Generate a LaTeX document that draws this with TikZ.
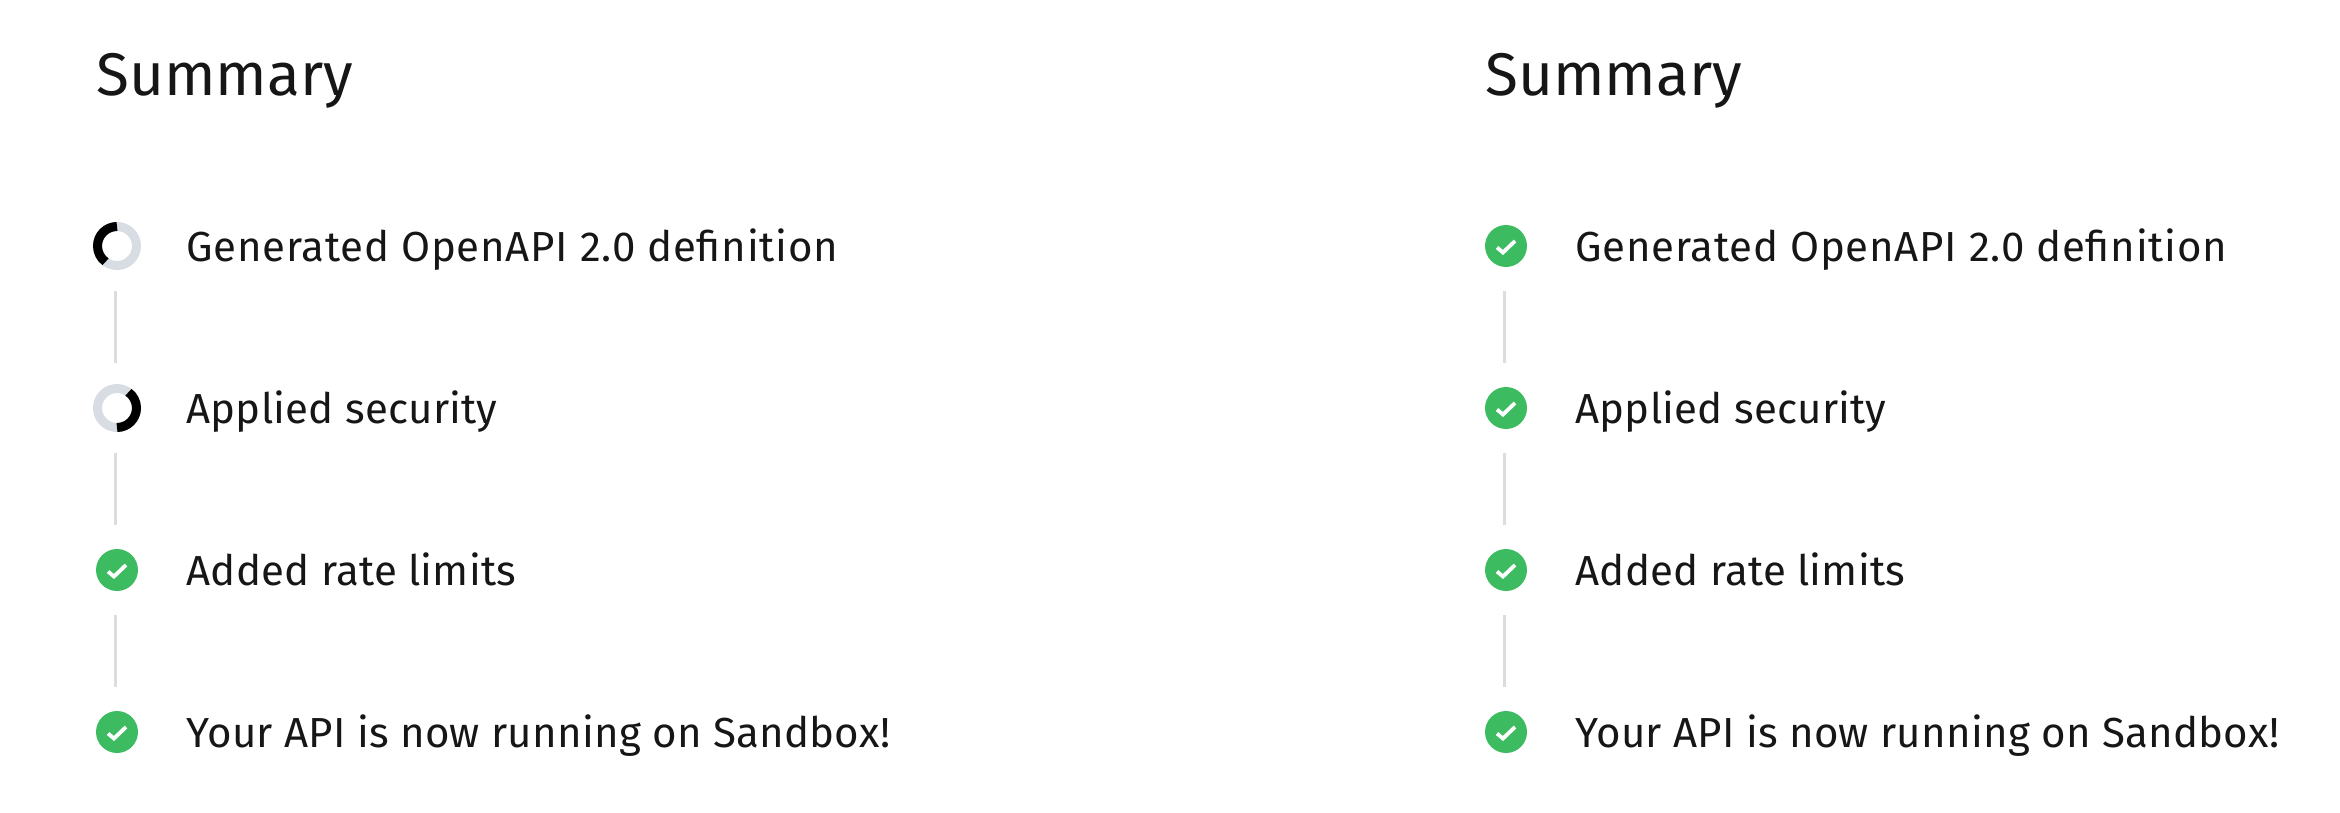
\documentclass[tikz,border=0pt]{standalone}
\usepackage{xcolor}
\usepackage{fontspec}
\setmainfont{Fira Sans}
\usepackage{tikz}
\usetikzlibrary{positioning}
\definecolor{okgreen}{RGB}{61, 187, 97}
\definecolor{ringgray}{RGB}{216, 220, 227}
\definecolor{stemgray}{RGB}{220, 220, 220}
\definecolor{inkdark}{RGB}{22, 22, 22}

\begin{document}
\begin{tikzpicture}[
  x=0.5pt, y=0.5pt,
  title/.style={font=\fontsize{30.1}{36}\selectfont, text=inkdark, anchor=base west, inner sep=0pt},
  label/.style={font=\fontsize{21}{26}\selectfont\addfontfeatures{LetterSpace=0.6}, text=inkdark, anchor=base west, inner sep=0pt},
  okdot/.style={circle, fill=okgreen, minimum size=21pt, inner sep=0pt},
  ring/.style={circle, draw=ringgray, line width=4.5pt, minimum size=19.5pt, inner sep=0pt},
  spin/.style={line width=4.5pt, black},
  tick/.style={white, line width=1.9pt},
  stem/.style={stemgray, line width=1.5pt, shorten >=22.5pt, shorten <=22.5pt},
]
  \useasboundingbox (0,0) rectangle (2340,-813);

  % --- left column ---
  \node[title] (titleL) at (96,-96) {Summary};
  \node[ring] (a1) at (117,-246) {};
  \node[ring] (a2) at (117,-408) {};
  \node[okdot] (a3) at (117,-570) {};
  \node[okdot] (a4) at (117,-732) {};

  % --- right column ---
  \node[title] (titleR) at (1485,-96) {Summary};
  \foreach \row/\y in {1/-246, 2/-408, 3/-570, 4/-732} {
    \node[okdot] (b\row) at (1506,\y) {};
  }

  % progress arcs
  \draw[spin] (a1.center) ++(90:19.5) arc[start angle=90, end angle=234, radius=19.5];
  \draw[spin] (a2.center) ++(-90:19.5) arc[start angle=-90, end angle=54, radius=19.5];

  % check marks
  \foreach \n in {a3,a4,b1,b2,b3,b4} {
    \draw[tick] ([shift={(-9,-1.5)}]\n.center) -- ([shift={(-3,-6.5)}]\n.center)
      -- ([shift={(9,5)}]\n.center);
  }

  % stems
  \foreach \c in {a,b} {
    \foreach \from/\to in {1/2, 2/3, 3/4} {
      \draw[stem] ([xshift=-0.75pt]\c\from.center) -- ([xshift=-0.75pt]\c\to.center);
    }
  }

  % labels
  \foreach \c/\x in {a/186, b/1575} {
    \node[label] (\c text1) at (\x,-261) {\addfontfeatures{LetterSpace=1.8}Generated OpenAPI 2.0 definition};
    \node[label] (\c text2) at (\x,-423) {Applied security};
    \node[label] (\c text3) at (\x,-585) {Added rate limits};
    \node[label] (\c text4) at (\x,-747) {Your API is now running on Sandbox!};
  }

\end{tikzpicture}
\end{document}
